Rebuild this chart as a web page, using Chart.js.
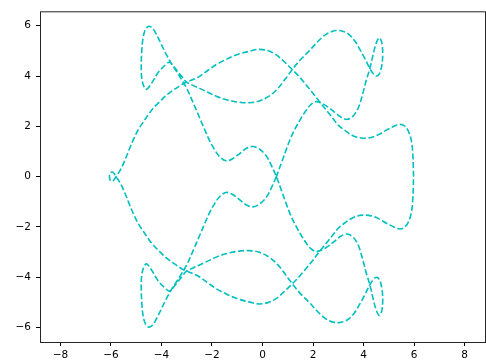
<!DOCTYPE html>
<html>
<head>
<meta charset="utf-8">
<script src="https://cdn.jsdelivr.net/npm/chart.js@4"></script>
<style>
  html, body { margin: 0; padding: 0; background: #fff; }
</style>
</head>
<body>
<canvas id="myChart" width="486" height="360"></canvas>
<script>
// tick labels
var xTicks = [-8, -6, -4, -2, 0, 2, 4, 6, 8];
var yTicks = [-6, -4, -2, 0, 2, 4, 6];

// outer curve: right edge up, across the top, small loop at the left, back along the bottom
var outerX = [5.98, 5.97, 5.95, 5.9, 5.78, 5.62, 5.43, 5.2, 4.9, 4.61, 4.3, 3.96, 3.6, 3.3, 3.0, 2.77, 2.5, 2.24, 1.98, 1.71,
  1.45, 1.18, 0.85, 0.52, 0.18, -0.18, -0.5, -0.85, -1.17, -1.5, -1.83, -2.17, -2.49, -2.75, -3.0, -3.25, -3.5, -3.8, -4.05, -4.3,
  -4.5, -4.7, -4.9, -5.1, -5.27, -5.45, -5.62, -5.8,
  -5.93, -6.03, -6.06, -6.03, -5.93, -5.8,
  -5.62, -5.45, -5.27, -5.1, -4.9, -4.7, -4.5, -4.3, -4.05, -3.8, -3.5, -3.25, -3.0, -2.75, -2.49, -2.17, -1.83, -1.5, -1.17, -0.85,
  -0.5, -0.18, 0.18, 0.52, 0.85, 1.18, 1.45, 1.71, 1.98, 2.24, 2.5, 2.77, 3.0, 3.3, 3.6, 3.96, 4.3, 4.61, 4.9, 5.2,
  5.43, 5.62, 5.78, 5.9, 5.95, 5.97, 5.98];
var outerY = [0, 0.45, 0.9, 1.4, 1.8, 2.02, 2.08, 2.0, 1.85, 1.68, 1.56, 1.53, 1.62, 1.81, 2.05, 2.34, 2.68, 3.0, 3.34, 3.67,
  3.98, 4.26, 4.58, 4.86, 5.02, 5.06, 4.99, 4.9, 4.79, 4.63, 4.46, 4.22, 3.99, 3.86, 3.76, 3.63, 3.46, 3.24, 3.0, 2.75,
  2.5, 2.2, 1.9, 1.5, 1.1, 0.65, 0.28, 0,
  -0.18, -0.14, 0, 0.14, 0.18, 0,
  -0.28, -0.65, -1.1, -1.5, -1.9, -2.2, -2.5, -2.75, -3.0, -3.24, -3.46, -3.63, -3.76, -3.86, -3.99, -4.22, -4.46, -4.63, -4.79, -4.9,
  -4.99, -5.06, -5.02, -4.86, -4.58, -4.26, -3.98, -3.67, -3.34, -3.0, -2.68, -2.34, -2.05, -1.81, -1.62, -1.53, -1.56, -1.68, -1.85, -2.0,
  -2.08, -2.02, -1.8, -1.4, -0.9, -0.45, 0];

// inner curve, part below the axis (starts at the crossing near x=0.55)
var innerLowX = [0.55, 0.35, 0.15, -0.1, -0.38, -0.65, -0.9, -1.2, -1.45, -1.7,
  -1.9, -2.09, -2.29, -2.49, -2.75, -3.01, -3.2, -3.41, -3.61, -3.81,
  -4.0, -4.2, -4.35, -4.51, -4.65, -4.74, -4.78, -4.8, -4.79, -4.72,
  -4.6, -4.4, -4.14, -3.87, -3.68, -3.45, -3.21, -3.01, -2.75, -2.49,
  -2.15, -1.83, -1.5, -1.17, -0.85, -0.53, -0.15, 0.26, 0.6, 0.9,
  1.18, 1.5, 1.84, 2.17, 2.5, 2.9, 3.2, 3.43, 3.65, 3.82,
  4.05, 4.25, 4.38, 4.5, 4.62, 4.72, 4.76, 4.72, 4.62, 4.5,
  4.38, 4.25, 4.1, 3.97, 3.8, 3.6, 3.35, 3.1, 2.85, 2.63,
  2.35, 2.11, 1.9, 1.71, 1.5, 1.31, 1.1, 0.92, 0.75];
var innerLowY = [0, -0.45, -0.82, -1.08, -1.2, -1.12, -0.92, -0.7, -0.63, -0.8,
  -1.08, -1.42, -1.87, -2.34, -2.95, -3.53, -3.85, -4.19, -4.5, -4.86,
  -5.25, -5.65, -5.9, -5.98, -5.82, -5.45, -5.0, -4.5, -4.0, -3.65,
  -3.47, -3.7, -4.13, -4.42, -4.55, -4.3, -4.0, -3.76, -3.63, -3.51,
  -3.35, -3.2, -3.08, -3.0, -2.95, -2.94, -3.0, -3.2, -3.5, -3.88,
  -4.26, -4.65, -4.99, -5.35, -5.65, -5.81, -5.77, -5.65, -5.4, -5.12,
  -4.7, -4.3, -4.1, -4.0, -4.08, -4.4, -4.9, -5.35, -5.52, -5.3,
  -4.85, -4.3, -3.8, -3.3, -2.75, -2.42, -2.28, -2.37, -2.57, -2.74,
  -2.92, -2.98, -2.85, -2.61, -2.28, -1.94, -1.5, -1.02, -0.55];

// inner curve, part above the axis (back to the crossing)
var innerHighX = [0.55, 0.35, 0.15, -0.1, -0.38, -0.65, -0.9, -1.2, -1.45, -1.7,
  -1.9, -2.09, -2.29, -2.49, -2.75, -3.01, -3.2, -3.41, -3.61, -3.81,
  -4.0, -4.2, -4.35, -4.51, -4.65, -4.74, -4.78, -4.8, -4.79, -4.72,
  -4.6, -4.4, -4.14, -3.87, -3.68, -3.45, -3.21, -3.01, -2.75, -2.49,
  -2.15, -1.83, -1.5, -1.17, -0.85, -0.53, -0.15, 0.26, 0.6, 0.9,
  1.18, 1.5, 1.84, 2.17, 2.5, 2.9, 3.2, 3.43, 3.65, 3.82,
  4.05, 4.25, 4.38, 4.5, 4.62, 4.72, 4.76, 4.72, 4.62, 4.5,
  4.38, 4.25, 4.1, 3.97, 3.8, 3.6, 3.35, 3.1, 2.85, 2.63,
  2.35, 2.11, 1.9, 1.71, 1.5, 1.31, 1.1, 0.92, 0.75, 0.55];
var innerHighY = [0, 0.45, 0.82, 1.08, 1.2, 1.12, 0.92, 0.7, 0.63, 0.8,
  1.08, 1.42, 1.87, 2.34, 2.95, 3.53, 3.85, 4.19, 4.5, 4.86,
  5.25, 5.65, 5.9, 5.98, 5.82, 5.45, 5.0, 4.5, 4.0, 3.65,
  3.47, 3.7, 4.13, 4.42, 4.55, 4.3, 4.0, 3.76, 3.63, 3.51,
  3.35, 3.2, 3.08, 3.0, 2.95, 2.94, 3.0, 3.2, 3.5, 3.88,
  4.26, 4.65, 4.99, 5.35, 5.65, 5.81, 5.77, 5.65, 5.4, 5.12,
  4.7, 4.3, 4.1, 4.0, 4.08, 4.4, 4.9, 5.35, 5.52, 5.3,
  4.85, 4.3, 3.8, 3.3, 2.75, 2.42, 2.28, 2.37, 2.57, 2.74,
  2.92, 2.98, 2.85, 2.61, 2.28, 1.94, 1.5, 1.02, 0.55, 0];

function toPoints(xs, ys) {
  return xs.map(function (x, i) { return { x: x, y: ys[i] }; });
}

function minus(v) {
  return String(v).replace('-', '\u2212');
}

// full box around the plot, like matplotlib spines
var frame = {
  id: 'frame',
  afterDraw: function (chart) {
    var a = chart.chartArea, c = chart.ctx;
    c.save();
    c.strokeStyle = '#262626';
    c.lineWidth = 1;
    c.strokeRect(a.left + 0.5, a.top + 0.5, a.right - a.left, a.bottom - a.top);
    c.restore();
  }
};

var lineStyle = {
  showLine: true,
  borderColor: '#00bfbf',
  borderWidth: 1.6,
  borderDash: [6, 2.6],
  pointRadius: 0,
  tension: 0.35,
  fill: false
};

var tickFont = { family: 'DejaVu Sans', size: 10.5 };

var ctx = document.getElementById('myChart').getContext('2d');
var myChart = new Chart(ctx, {
  type: 'scatter',
  data: {
    datasets: [
      Object.assign({ data: toPoints(outerX, outerY) }, lineStyle),
      Object.assign({ data: toPoints(innerLowX.concat(innerHighX), innerLowY.concat(innerHighY)) }, lineStyle)
    ]
  },
  options: {
    responsive: false,
    animation: false,
    layout: { padding: { top: 11, right: 1, left: 0, bottom: 0 } },
    plugins: { legend: { display: false }, tooltip: { enabled: false } },
    scales: {
      x: {
        type: 'linear',
        min: -8.81,
        max: 8.81,
        afterBuildTicks: function (s) { s.ticks = xTicks.map(function (v) { return { value: v }; }); },
        afterFit: function (s) { s.height = 18; },
        grid: { drawOnChartArea: false, drawTicks: true, tickLength: 4, tickWidth: 1, tickColor: '#000' },
        border: { display: false },
        ticks: { color: '#000', font: tickFont, padding: 3, maxRotation: 0, autoSkip: false, callback: minus }
      },
      y: {
        type: 'linear',
        min: -6.575,
        max: 6.575,
        afterBuildTicks: function (s) { s.ticks = yTicks.map(function (v) { return { value: v }; }); },
        afterFit: function (s) { s.width = 40; },
        grid: { drawOnChartArea: false, drawTicks: true, tickLength: 4, tickWidth: 1, tickColor: '#000' },
        border: { display: false },
        ticks: { color: '#000', font: tickFont, padding: 5, autoSkip: false, callback: minus }
      }
    }
  },
  plugins: [frame]
});
</script>
</body>
</html>
